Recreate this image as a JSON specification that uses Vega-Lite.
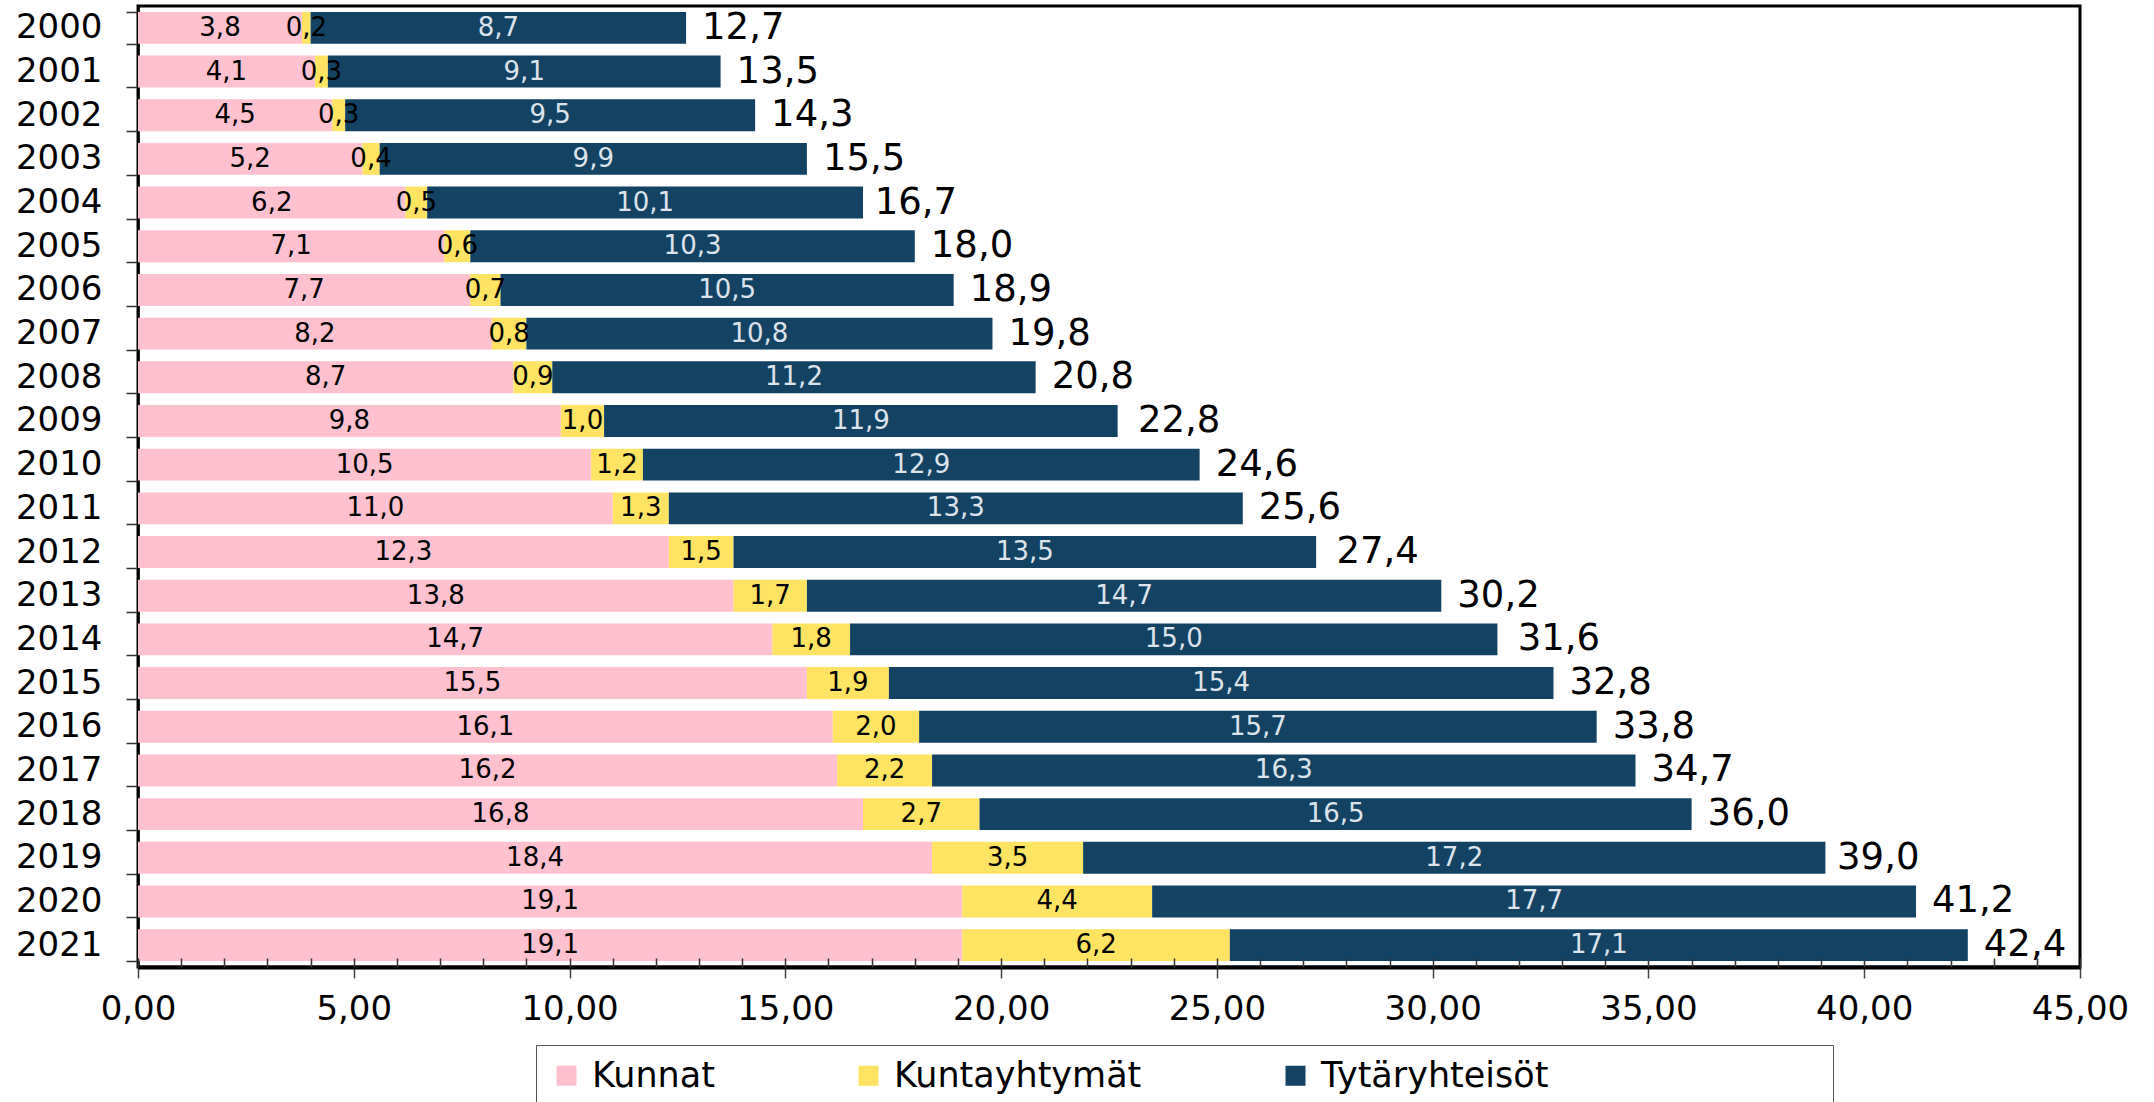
{
  "$schema": "https://vega.github.io/schema/vega-lite/v6.json",
  "width": 1942,
  "height": 961,
  "autosize": {"type": "none"},
  "padding": {"left": 138, "top": 6, "right": 74, "bottom": 135},
  "background": "white",
  "config": {
    "locale": {"number": {"decimal": ",", "thousands": " ", "grouping": [3], "currency": ["", " €"]}},
    "font": "DejaVu Sans",
    "view": {"stroke": "#000", "strokeWidth": 3}
  },
  "datasets": {
    "segments": [
      {"year": "2000", "group": "Kunnat", "value": 3.8}, {"year": "2000", "group": "Kuntayhtymät", "value": 0.2}, {"year": "2000", "group": "Tytäryhteisöt", "value": 8.7},
      {"year": "2001", "group": "Kunnat", "value": 4.1}, {"year": "2001", "group": "Kuntayhtymät", "value": 0.3}, {"year": "2001", "group": "Tytäryhteisöt", "value": 9.1},
      {"year": "2002", "group": "Kunnat", "value": 4.5}, {"year": "2002", "group": "Kuntayhtymät", "value": 0.3}, {"year": "2002", "group": "Tytäryhteisöt", "value": 9.5},
      {"year": "2003", "group": "Kunnat", "value": 5.2}, {"year": "2003", "group": "Kuntayhtymät", "value": 0.4}, {"year": "2003", "group": "Tytäryhteisöt", "value": 9.9},
      {"year": "2004", "group": "Kunnat", "value": 6.2}, {"year": "2004", "group": "Kuntayhtymät", "value": 0.5}, {"year": "2004", "group": "Tytäryhteisöt", "value": 10.1},
      {"year": "2005", "group": "Kunnat", "value": 7.1}, {"year": "2005", "group": "Kuntayhtymät", "value": 0.6}, {"year": "2005", "group": "Tytäryhteisöt", "value": 10.3},
      {"year": "2006", "group": "Kunnat", "value": 7.7}, {"year": "2006", "group": "Kuntayhtymät", "value": 0.7}, {"year": "2006", "group": "Tytäryhteisöt", "value": 10.5},
      {"year": "2007", "group": "Kunnat", "value": 8.2}, {"year": "2007", "group": "Kuntayhtymät", "value": 0.8}, {"year": "2007", "group": "Tytäryhteisöt", "value": 10.8},
      {"year": "2008", "group": "Kunnat", "value": 8.7}, {"year": "2008", "group": "Kuntayhtymät", "value": 0.9}, {"year": "2008", "group": "Tytäryhteisöt", "value": 11.2},
      {"year": "2009", "group": "Kunnat", "value": 9.8}, {"year": "2009", "group": "Kuntayhtymät", "value": 1.0}, {"year": "2009", "group": "Tytäryhteisöt", "value": 11.9},
      {"year": "2010", "group": "Kunnat", "value": 10.5}, {"year": "2010", "group": "Kuntayhtymät", "value": 1.2}, {"year": "2010", "group": "Tytäryhteisöt", "value": 12.9},
      {"year": "2011", "group": "Kunnat", "value": 11.0}, {"year": "2011", "group": "Kuntayhtymät", "value": 1.3}, {"year": "2011", "group": "Tytäryhteisöt", "value": 13.3},
      {"year": "2012", "group": "Kunnat", "value": 12.3}, {"year": "2012", "group": "Kuntayhtymät", "value": 1.5}, {"year": "2012", "group": "Tytäryhteisöt", "value": 13.5},
      {"year": "2013", "group": "Kunnat", "value": 13.8}, {"year": "2013", "group": "Kuntayhtymät", "value": 1.7}, {"year": "2013", "group": "Tytäryhteisöt", "value": 14.7},
      {"year": "2014", "group": "Kunnat", "value": 14.7}, {"year": "2014", "group": "Kuntayhtymät", "value": 1.8}, {"year": "2014", "group": "Tytäryhteisöt", "value": 15.0},
      {"year": "2015", "group": "Kunnat", "value": 15.5}, {"year": "2015", "group": "Kuntayhtymät", "value": 1.9}, {"year": "2015", "group": "Tytäryhteisöt", "value": 15.4},
      {"year": "2016", "group": "Kunnat", "value": 16.1}, {"year": "2016", "group": "Kuntayhtymät", "value": 2.0}, {"year": "2016", "group": "Tytäryhteisöt", "value": 15.7},
      {"year": "2017", "group": "Kunnat", "value": 16.2}, {"year": "2017", "group": "Kuntayhtymät", "value": 2.2}, {"year": "2017", "group": "Tytäryhteisöt", "value": 16.3},
      {"year": "2018", "group": "Kunnat", "value": 16.8}, {"year": "2018", "group": "Kuntayhtymät", "value": 2.7}, {"year": "2018", "group": "Tytäryhteisöt", "value": 16.5},
      {"year": "2019", "group": "Kunnat", "value": 18.4}, {"year": "2019", "group": "Kuntayhtymät", "value": 3.5}, {"year": "2019", "group": "Tytäryhteisöt", "value": 17.2},
      {"year": "2020", "group": "Kunnat", "value": 19.1}, {"year": "2020", "group": "Kuntayhtymät", "value": 4.4}, {"year": "2020", "group": "Tytäryhteisöt", "value": 17.7},
      {"year": "2021", "group": "Kunnat", "value": 19.1}, {"year": "2021", "group": "Kuntayhtymät", "value": 6.2}, {"year": "2021", "group": "Tytäryhteisöt", "value": 17.1}
    ],
    "totals": [
      {"year": "2000", "total": 12.7}, {"year": "2001", "total": 13.5}, {"year": "2002", "total": 14.3},
      {"year": "2003", "total": 15.5}, {"year": "2004", "total": 16.7}, {"year": "2005", "total": 18.0},
      {"year": "2006", "total": 18.9}, {"year": "2007", "total": 19.8}, {"year": "2008", "total": 20.8},
      {"year": "2009", "total": 22.8}, {"year": "2010", "total": 24.6}, {"year": "2011", "total": 25.6},
      {"year": "2012", "total": 27.4}, {"year": "2013", "total": 30.2}, {"year": "2014", "total": 31.6},
      {"year": "2015", "total": 32.8}, {"year": "2016", "total": 33.8}, {"year": "2017", "total": 34.7},
      {"year": "2018", "total": 36.0}, {"year": "2019", "total": 39.0}, {"year": "2020", "total": 41.2},
      {"year": "2021", "total": 42.4}
    ]
  },
  "layer": [
    {
      "data": {"name": "segments"},
      "mark": {"type": "bar"},
      "encoding": {
        "y": {
          "field": "year", "type": "ordinal",
          "scale": {"paddingInner": 0.27, "paddingOuter": 0.135},
          "axis": {
            "title": null, "tickBand": "extent", "tickSize": 12, "tickColor": "#333", "tickWidth": 1.5,
            "labelPadding": 24, "labelFontSize": 34, "labelColor": "#000",
            "domainColor": "#000", "domainWidth": 2.5, "grid": false
          }
        },
        "x": {
          "field": "value", "type": "quantitative", "stack": "zero",
          "scale": {"domain": [0, 45], "nice": false},
          "axis": {
            "orient": "bottom", "title": null, "values": [0, 5, 10, 15, 20, 25, 30, 35, 40, 45], "format": ".2f",
            "tickSize": 11, "tickColor": "#444", "tickWidth": 1.5, "labelFlush": false,
            "labelFontSize": 34, "labelColor": "#000", "labelPadding": 14,
            "domainColor": "#000", "domainWidth": 4, "grid": false, "zindex": 1
          }
        },
        "color": {
          "field": "group", "type": "nominal",
          "scale": {"domain": ["Kunnat", "Kuntayhtymät", "Tytäryhteisöt"], "range": ["#FFC0CF", "#FFE363", "#134263"]},
          "legend": {
            "orient": "none", "legendX": 398, "legendY": 1039, "direction": "horizontal",
            "title": "\u00a0", "titleOrient": "right", "titleFontSize": 1, "titlePadding": 272,
            "symbolType": "square", "symbolSize": 400, "symbolStrokeWidth": 0,
            "labelFontSize": 35, "labelColor": "#000", "labelOffset": 8, "labelLimit": 3000,
            "columnPadding": 136, "padding": 13, "strokeColor": "#555"
          }
        },
        "order": {"field": "group", "sort": "ascending"}
      }
    },
    {
      "data": {"name": "segments"},
      "transform": [
        {"stack": "value", "groupby": ["year"], "sort": [{"field": "group", "order": "ascending"}], "as": ["x0", "x1"]},
        {"calculate": "(datum.x0 + datum.x1) / 2", "as": "mid"}
      ],
      "mark": {"type": "text", "fontSize": 26, "baseline": "middle", "align": "center"},
      "encoding": {
        "y": {"field": "year", "type": "ordinal"},
        "x": {
          "field": "mid", "type": "quantitative",
          "scale": {"domain": [0, 45], "nice": false},
          "axis": {
            "orient": "bottom", "title": null, "zindex": 2,
            "values": [0,1,2,3,4,5,6,7,8,9,10,11,12,13,14,15,16,17,18,19,20,21,22,23,24,25,26,27,28,29,30,31,32,33,34,35,36,37,38,39,40,41,42,43,44,45],
            "labels": false, "domain": false, "grid": false, "tickSize": -9, "tickColor": "#333", "tickWidth": 1.5
          }
        },
        "text": {"field": "value", "type": "quantitative", "format": ".1f"},
        "color": {"condition": {"test": "datum.group == 'Tytäryhteisöt'", "value": "#dde3ea"}, "value": "#000"}
      }
    },
    {
      "data": {"name": "totals"},
      "mark": {"type": "text", "fontSize": 37, "align": "left", "baseline": "middle", "dx": 16, "color": "#000"},
      "encoding": {
        "y": {"field": "year", "type": "ordinal"},
        "x": {"field": "total", "type": "quantitative", "scale": {"domain": [0, 45], "nice": false}, "axis": null},
        "text": {"field": "total", "type": "quantitative", "format": ".1f"}
      }
    }
  ],
  "resolve": {"scale": {"x": "independent"}, "axis": {"x": "independent"}}
}
